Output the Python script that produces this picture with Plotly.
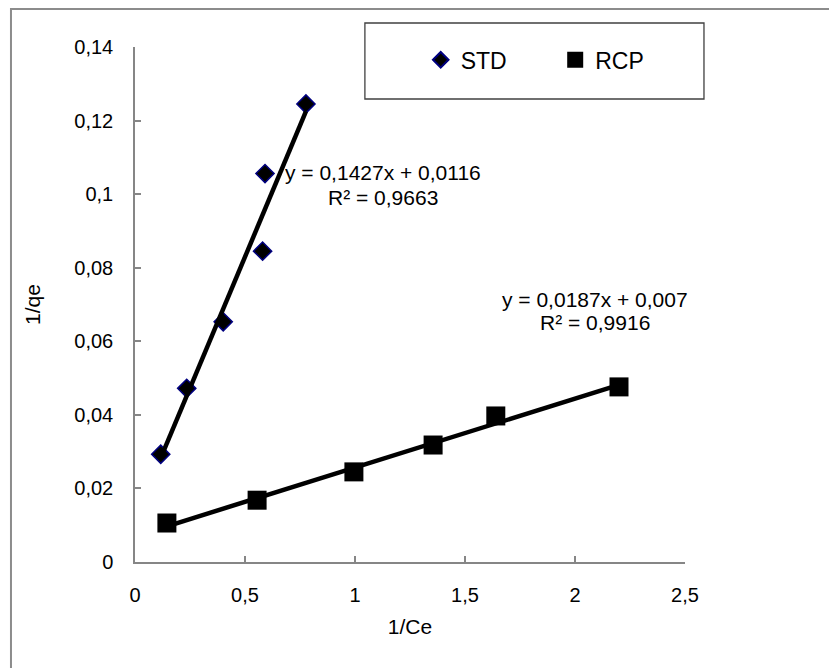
import plotly.graph_objects as go

# Langmuir linearisation: 1/qe against 1/Ce for two adsorbents
std_x = [0.117, 0.235, 0.401, 0.580, 0.591, 0.777]
std_y = [0.0293, 0.0472, 0.0653, 0.0845, 0.1056, 0.1245]

rcp_x = [0.145, 0.555, 0.995, 1.355, 1.640, 2.200]
rcp_y = [0.0106, 0.0168, 0.0245, 0.0318, 0.0397, 0.0476]

# Linear trendline coefficients (slope, intercept) and fit quality
std_fit = (0.1427, 0.0116, 0.9663)
rcp_fit = (0.0187, 0.007, 0.9916)

x_tickvals = [0, 0.5, 1, 1.5, 2, 2.5]
x_ticktext = ["0", "0,5", "1", "1,5", "2", "2,5"]
y_tickvals = [0, 0.02, 0.04, 0.06, 0.08, 0.10, 0.12, 0.14]
y_ticktext = ["0", "0,02", "0,04", "0,06", "0,08", "0,1", "0,12", "0,14"]

FONT = "Arial, Liberation Sans, sans-serif"
AXIS_GREY = "#868686"


def fmt(v, nd):
    return f"{v:.{nd}f}".rstrip("0").rstrip(".").replace(".", ",")


def trend(xs, fit):
    lo, hi = min(xs), max(xs)
    slope, icpt, _ = fit
    return [lo, hi], [slope * lo + icpt, slope * hi + icpt]


fig = go.Figure()

fig.add_trace(go.Scatter(
    x=std_x, y=std_y, mode="markers", name="STD", legend="legend",
    marker=dict(symbol="diamond", size=14, color="black",
                line=dict(color="#000080", width=1.5)),
))
fig.add_trace(go.Scatter(
    x=rcp_x, y=rcp_y, mode="markers", name="RCP", legend="legend2",
    marker=dict(symbol="square", size=19, color="black",
                line=dict(color="black", width=0)),
))

for xs, fit in ((std_x, std_fit), (rcp_x, rcp_fit)):
    lx, ly = trend(xs, fit)
    fig.add_trace(go.Scatter(x=lx, y=ly, mode="lines", showlegend=False,
                             line=dict(color="black", width=4.5),
                             hoverinfo="skip"))

# Equation labels
eq_font = dict(family=FONT, size=21, color="black")
labels = [
    (std_fit, 1.125, 0.1060, 0.0992),
    (rcp_fit, 2.09, 0.0713, 0.0651),
]
for fit, xc, y1, y2 in labels:
    slope, icpt, r2 = fit
    fig.add_annotation(x=xc, y=y1, xref="x", yref="y", showarrow=False,
                       text=f"y = {fmt(slope, 4)}x + {fmt(icpt, 4)}",
                       font=eq_font, xanchor="center", yanchor="middle")
    fig.add_annotation(x=xc, y=y2, xref="x", yref="y", showarrow=False,
                       text=f"R² = {fmt(r2, 4)}",
                       font=eq_font, xanchor="center", yanchor="middle")

# Legend frame and outer chart frame
fig.add_shape(type="rect", xref="paper", yref="paper",
              x0=0.418, x1=1.0345, y0=0.899, y1=1.0466,
              line=dict(color="#404040", width=1.3), fillcolor="rgba(0,0,0,0)")
fig.add_shape(type="rect", xref="paper", yref="paper",
              x0=-0.2255, x1=1.6, y0=-0.4, y1=1.0738,
              line=dict(color="#8c8c8c", width=2), fillcolor="rgba(0,0,0,0)")

axis_common = dict(
    showline=True, linecolor=AXIS_GREY, linewidth=1.5,
    ticks="inside", ticklen=6, tickwidth=1.5, tickcolor=AXIS_GREY,
    showgrid=False, zeroline=False,
    tickfont=dict(family=FONT, size=20, color="black"),
)

fig.update_layout(
    width=829, height=668,
    margin=dict(l=135, r=144, t=47, b=106, pad=0),
    paper_bgcolor="white", plot_bgcolor="white",
    font=dict(family=FONT, color="black"),
    xaxis=dict(range=[0, 2.5], tickvals=x_tickvals, ticktext=x_ticktext,
               ticklabelstandoff=14,
               title=dict(text="1/Ce", font=dict(family=FONT, size=21),
                          standoff=15),
               **axis_common),
    yaxis=dict(range=[0, 0.14], tickvals=y_tickvals, ticktext=y_ticktext,
               ticklabelstandoff=16,
               title=dict(text="1/qe", font=dict(family=FONT, size=21),
                          standoff=28),
               **axis_common),
    legend=dict(x=0.5195, y=0.975, xanchor="left", yanchor="middle",
                bgcolor="rgba(0,0,0,0)", borderwidth=0,
                font=dict(family=FONT, size=23), itemsizing="constant"),
    legend2=dict(x=0.764, y=0.975, xanchor="left", yanchor="middle",
                 bgcolor="rgba(0,0,0,0)", borderwidth=0,
                 font=dict(family=FONT, size=23)),
    hovermode=False,
)

fig.write_html("out.html")
